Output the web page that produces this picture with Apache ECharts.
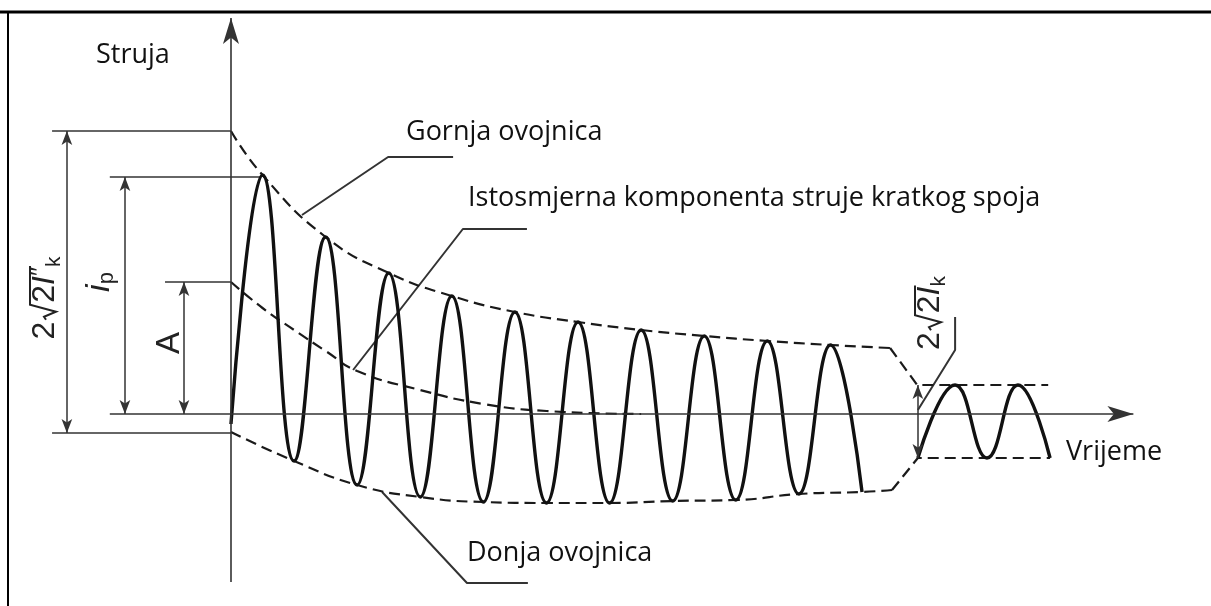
<!DOCTYPE html>
<html>
<head>
<meta charset="utf-8">
<title>Struja kratkog spoja</title>
<script src="https://cdn.jsdelivr.net/npm/echarts@6/dist/echarts.min.js"></script>
<style>
  html, body { margin: 0; padding: 0; background: #fff; }
  #chart { width: 1211px; height: 606px; }
</style>
</head>
<body>
<div id="chart"></div>
<script>
// vrijeme u ms, struja u kA (ocitano sa slike)
const startValue = -1.0
const peakTimes = [10, 30, 50, 70, 90, 110, 130, 150, 170, 190]
const peakValues = [23.9, 17.7, 14.1, 11.8, 10.2, 9.2, 8.4, 7.8, 7.3, 6.9]
const troughTimes = [20, 40, 60, 80, 100, 120, 140, 160, 180, 200]
const troughValues = [-4.7, -7.1, -8.3, -8.8, -8.9, -8.9, -8.7, -8.6, -8.0, -7.8]

// ustaljeno stanje (desno)
const steadyTimes = [217.7, 229.5, 239.6, 249.4, 259.6]
const steadyValues = [-4.4, 2.9, -4.4, 2.9, -4.4]

// ovojnice
const upperStart = 28.3
const upperTailTimes = [208.9, 217.5, 259.0]
const upperTailValues = [6.6, 2.9, 2.9]
const lowerStart = -1.8
const lowerTailTimes = [209.5, 217.7, 259.6]
const lowerTailValues = [-7.6, -4.4, -4.4]

// istosmjerna komponenta
const dcTimes = [0, 10, 20, 30, 40, 60, 80, 100, 130]
const dcValues = [13.2, 10.6, 8.4, 6.3, 4.3, 2.4, 1.0, 0.3, 0]

const zip = (xs, ys) => xs.map((x, k) => [x, ys[k]])

const waveData = [[0, startValue]]
peakTimes.forEach((t, k) => {
  waveData.push([t, peakValues[k]])
  waveData.push([troughTimes[k], troughValues[k]])
})

const upperData = [[0, upperStart]].concat(zip(peakTimes, peakValues), [[upperTailTimes[0], upperTailValues[0]]])
const lowerData = [[0, lowerStart]].concat(zip(troughTimes, troughValues), [[lowerTailTimes[0], lowerTailValues[0]]])

// kotirne linije i pokazivaci
const extLines = [
  [[-56.7, 28.3], [0, 28.3]],
  [[-56.7, -1.9], [0, -1.9]],
  [[-38.4, 23.7], [9.5, 23.7]],
  [[-20.9, 13.2], [0, 13.2]]
]
const dimArrows = [
  [[-52, 28.3], [-52, -1.9]],
  [[-33.6, 23.7], [-33.6, 0]],
  [[-14.9, 13.2], [-14.9, 0]],
  [[217.7, 2.9], [217.7, -4.4]]
]
const leaders = [
  [[22.5, 19.9], [49.8, 25.7], [70.4, 25.7]],
  [[38.7, 4.4], [73.5, 18.5], [93.8, 18.5]],
  [[47.9, -7.8], [74.8, -16.9], [94.1, -16.9]],
  [[217.7, 0.4], [229.5, 6.4], [229.5, 9.7]]
]
const axisLines = [
  [[0, -16.8], [0, 39.6]],
  [[-38.4, 0], [286, 0]]
]

const dashed = { color: '#1a1a1a', width: 2.2, type: [11, 6] }

function poly(data, lineStyle, smooth) {
  return {
    type: 'line',
    data: data,
    smooth: smooth || false,
    symbol: 'none',
    silent: true,
    clip: false,
    lineStyle: lineStyle
  }
}

function arrows(pairs, symbol, size, width) {
  return {
    type: 'line',
    data: [],
    silent: true,
    markLine: {
      silent: true,
      symbol: symbol,
      symbolSize: size,
      label: { show: false },
      emphasis: { disabled: true },
      lineStyle: { type: 'solid', color: '#333', width: width },
      data: pairs.map(p => [{ coord: p[0] }, { coord: p[1] }])
    }
  }
}

const ctx = document.createElement('canvas').getContext('2d')
function measure(text, font) {
  ctx.font = font
  return ctx.measureText(text).width
}

// 2√2I″k, okrenuto za 90°
function radicalLabel(cx, cy, prime) {
  const fs = 32, fam = '"Liberation Sans", Arial, sans-serif'
  const font = fs + 'px ' + fam
  const w2 = measure('2', font)
  const wI = measure('I', 'italic ' + font)
  const wP = prime ? measure('\u2033', '26px ' + fam) : 0
  const wk = measure('k', '21px ' + fam)
  const rad = 17
  const total = w2 + 2 + rad + w2 + wI + wP + wk
  const x0 = -total / 2
  const rx = x0 + w2 + 2
  const tx = rx + rad
  const over = -15
  return {
    type: 'group', x: cx, y: cy, rotation: Math.PI / 2, silent: true,
    children: [
      { type: 'text', x: x0, y: 0, style: { text: '2', font: font, fill: '#222', verticalAlign: 'middle' } },
      { type: 'polyline', shape: { points: [[rx, 1], [rx + 3, -1], [rx + 8, 11], [rx + 15, over], [tx + w2 + wI + wP + 1, over]] },
        style: { stroke: '#222', lineWidth: 2, fill: null } },
      { type: 'text', x: tx, y: 0, style: { text: '2', font: font, fill: '#222', verticalAlign: 'middle' } },
      { type: 'text', x: tx + w2, y: 0, style: { text: 'I', font: 'italic ' + font, fill: '#222', verticalAlign: 'middle' } },
      { type: 'text', x: tx + w2 + wI, y: -4, style: { text: prime ? '\u2033' : '', font: '26px ' + fam, fill: '#222', verticalAlign: 'middle' } },
      { type: 'text', x: tx + w2 + wI + wP, y: 9, style: { text: 'k', font: '21px ' + fam, fill: '#222', verticalAlign: 'middle' } }
    ]
  }
}

function label(text, x, y) {
  return { type: 'text', x: x, y: y, silent: true,
    style: { text: text, font: '27px "Open Sans", sans-serif', fill: '#111', verticalAlign: 'middle' } }
}

const option = {
  animation: false,
  backgroundColor: '#fff',
  grid: { left: 0, right: 0, top: 0, bottom: 0 },
  xAxis: { type: 'value', min: -73.2, max: 310.6, show: false },
  yAxis: { type: 'value', min: -19.2, max: 41.4, show: false },
  series: [
    arrows(axisLines, ['none', 'arrow'], [12, 26], 1.6),
    arrows(dimArrows, ['arrow', 'arrow'], [8, 14], 1.5),
    ...extLines.map(d => poly(d, { color: '#333', width: 1.5 })),
    ...leaders.map(d => poly(d, { color: '#333', width: 2 })),
    poly(upperData, dashed, 0.5),
    poly(zip(upperTailTimes, upperTailValues), dashed),
    poly(lowerData, dashed, 0.5),
    poly(zip(lowerTailTimes, lowerTailValues), dashed),
    poly(zip(dcTimes, dcValues), dashed, 0.5),
    poly(waveData, { color: '#111', width: 3.4 }, 0.45),
    poly(zip(steadyTimes, steadyValues), { color: '#111', width: 3.4 }, 0.45)
  ],
  graphic: [
    { type: 'line', silent: true, shape: { x1: 0, y1: 12, x2: 1211, y2: 12 }, style: { stroke: '#000', lineWidth: 3 } },
    { type: 'line', silent: true, shape: { x1: 8, y1: 12, x2: 8, y2: 606 }, style: { stroke: '#000', lineWidth: 2 } },
    label('Struja', 96, 55),
    label('Gornja ovojnica', 406, 132),
    label('Istosmjerna komponenta struje kratkog spoja', 468, 198),
    label('Donja ovojnica', 467, 553),
    label('Vrijeme', 1066, 452),
    radicalLabel(45, 298, true),
    radicalLabel(930, 313, false),
    { type: 'group', x: 100, y: 282, rotation: Math.PI / 2, silent: true,
      children: [{ type: 'text', x: 0, y: 0, style: {
        text: '{i|i}{p|p}', fill: '#222', align: 'center', verticalAlign: 'middle',
        rich: {
          i: { fontFamily: '"Liberation Sans", Arial, sans-serif', fontSize: 34, fontStyle: 'italic' },
          p: { fontFamily: '"Liberation Sans", Arial, sans-serif', fontSize: 22, padding: [14, 0, 0, 0] }
        } } }] },
    { type: 'group', x: 170, y: 343, rotation: Math.PI / 2, silent: true,
      children: [{ type: 'text', x: 0, y: 0, style: {
        text: 'A', font: '33px "Liberation Sans", Arial, sans-serif', fill: '#222', align: 'center', verticalAlign: 'middle' } }] }
  ]
}

const chart = echarts.init(document.getElementById('chart'))
chart.setOption(option)

window.addEventListener('resize', () => {
  chart.resize()
})
</script>
</body>
</html>
